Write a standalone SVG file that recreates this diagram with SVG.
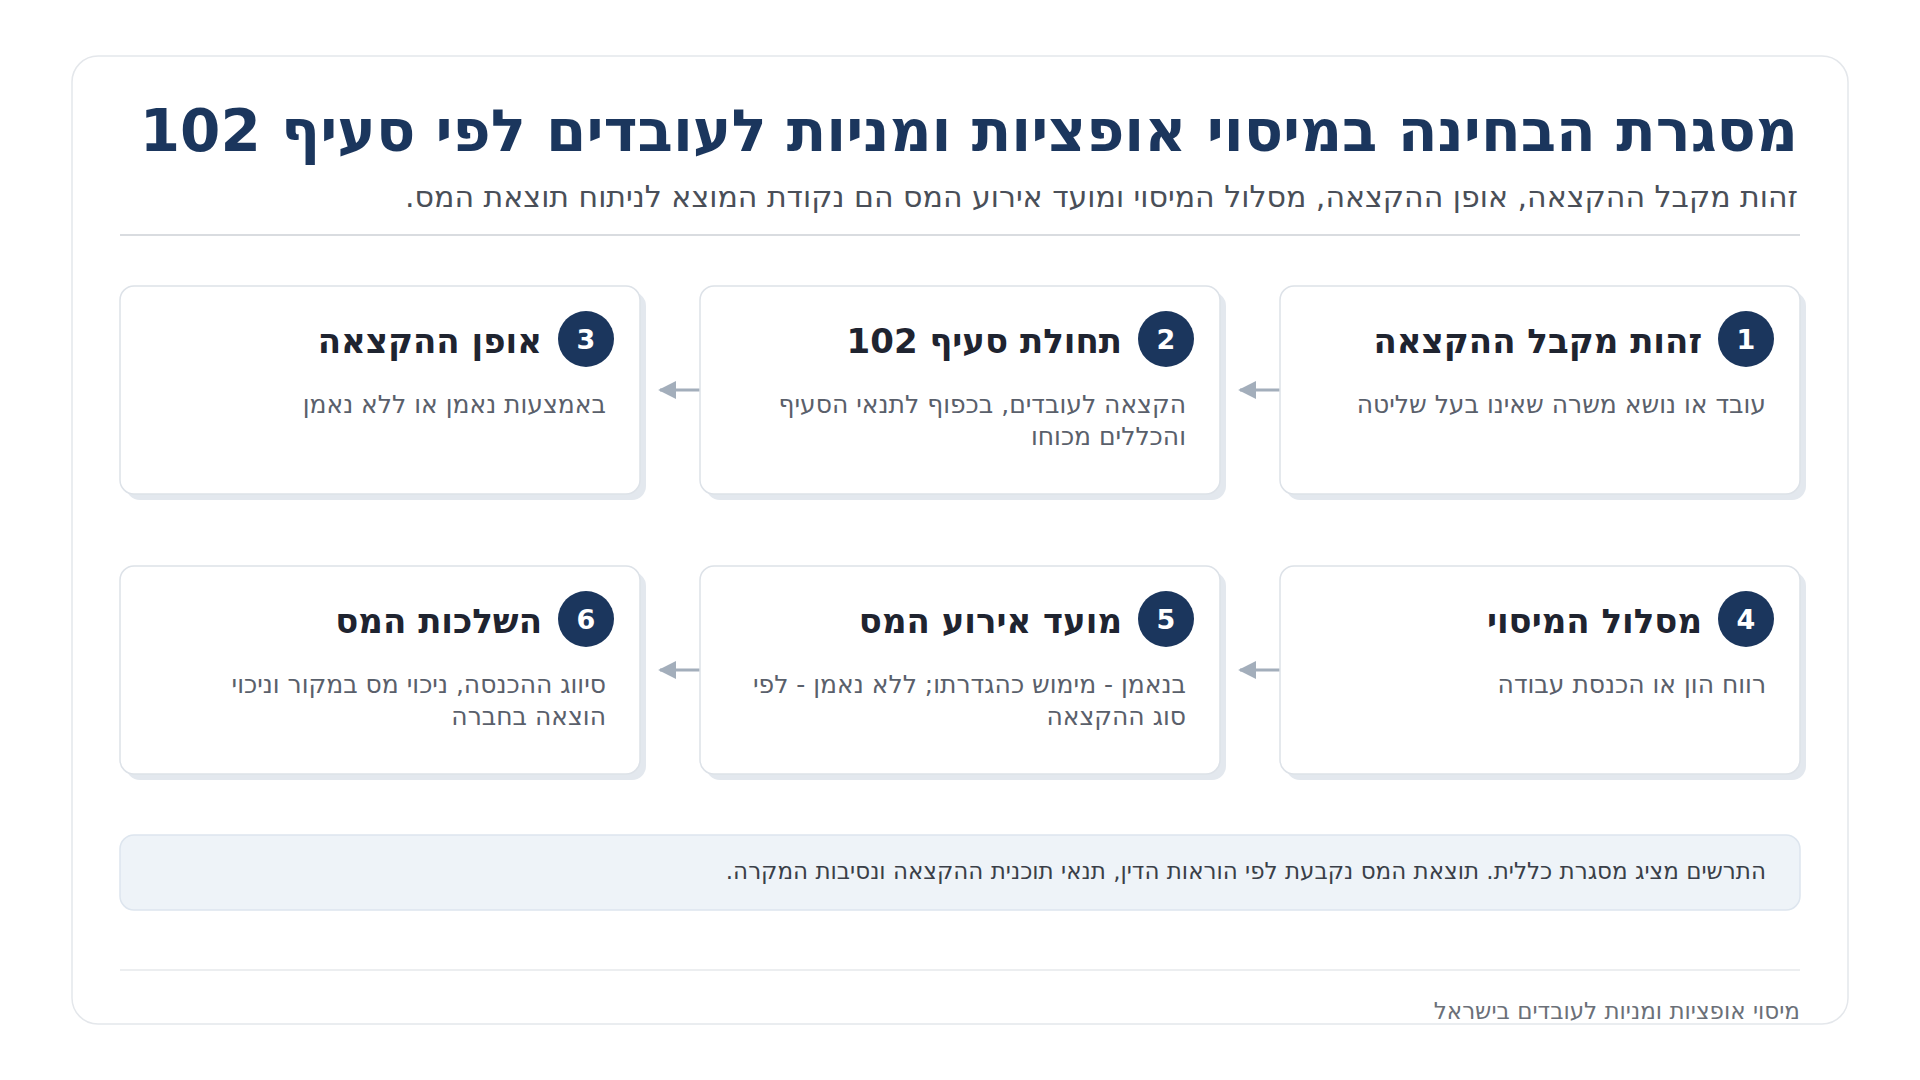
<svg xmlns="http://www.w3.org/2000/svg" width="1920" height="1080" viewBox="0 0 1920 1080">
<defs>
<style>
text{font-family:"DejaVu Sans","Noto Sans",sans-serif;direction:rtl;}
.title{font-size:58px;font-weight:bold;fill:#1b365d;}
.sub{font-size:30px;fill:#4a4f58;}
.ct{font-size:34px;font-weight:bold;fill:#1f2430;}
.cd{font-size:25px;fill:#5a606b;}
.num{font-size:27px;font-weight:bold;fill:#ffffff;direction:ltr;}
.note{font-size:23px;fill:#3a3f48;}
.foot{font-size:23px;fill:#6b7078;}
.card{fill:#ffffff;stroke:#dde2e8;stroke-width:1.5;}
.shadow{fill:#e3e8ee;}
.badge{fill:#1b365d;}
.conn{stroke:#a3aebb;stroke-width:3;fill:none;}
</style>
<marker id="ah" viewBox="0 0 10 10" refX="9" refY="5" markerWidth="6" markerHeight="6" markerUnits="strokeWidth" orient="auto">
<path d="M0,0 L10,5 L0,10 z" fill="#a3aebb"/>
</marker>
</defs>
<rect width="1920" height="1080" fill="#ffffff"/>
<rect x="72" y="56" width="1776" height="968" rx="26" fill="#ffffff" stroke="#e4e7eb" stroke-width="1.5"/>
<g id="header">
<text class="title" x="1798" y="151" text-anchor="start">מסגרת הבחינה במיסוי אופציות ומניות לעובדים לפי סעיף 102</text>
<text class="sub" x="1798" y="207" text-anchor="start">זהות מקבל ההקצאה, אופן ההקצאה, מסלול המיסוי ומועד אירוע המס הם נקודת המוצא לניתוח תוצאת המס.</text>
<line x1="120" y1="235" x2="1800" y2="235" stroke="#d9dce0" stroke-width="2"/>
</g>
<g id="connectors">
<line class="conn" x1="1280" y1="390" x2="1240" y2="390" marker-end="url(#ah)"/>
<line class="conn" x1="700" y1="390" x2="660" y2="390" marker-end="url(#ah)"/>
<line class="conn" x1="1280" y1="670" x2="1240" y2="670" marker-end="url(#ah)"/>
<line class="conn" x1="700" y1="670" x2="660" y2="670" marker-end="url(#ah)"/>
</g>
<g id="node1">
<rect class="shadow" x="1286" y="292" width="520" height="208" rx="14"/>
<rect class="card" x="1280" y="286" width="520" height="208" rx="14"/>
<circle class="badge" cx="1746" cy="339" r="28"/>
<text class="num" x="1746" y="349" text-anchor="middle">1</text>
<text class="ct" x="1702" y="353" text-anchor="start">זהות מקבל ההקצאה</text>
<text class="cd" x="1766" y="413" text-anchor="start">עובד או נושא משרה שאינו בעל שליטה</text>
</g>
<g id="node2">
<rect class="shadow" x="706" y="292" width="520" height="208" rx="14"/>
<rect class="card" x="700" y="286" width="520" height="208" rx="14"/>
<circle class="badge" cx="1166" cy="339" r="28"/>
<text class="num" x="1166" y="349" text-anchor="middle">2</text>
<text class="ct" x="1122" y="353" text-anchor="start">תחולת סעיף 102</text>
<text class="cd" x="1186" y="413" text-anchor="start">הקצאה לעובדים, בכפוף לתנאי הסעיף</text>
<text class="cd" x="1186" y="445" text-anchor="start">והכללים מכוחו</text>
</g>
<g id="node3">
<rect class="shadow" x="126" y="292" width="520" height="208" rx="14"/>
<rect class="card" x="120" y="286" width="520" height="208" rx="14"/>
<circle class="badge" cx="586" cy="339" r="28"/>
<text class="num" x="586" y="349" text-anchor="middle">3</text>
<text class="ct" x="542" y="353" text-anchor="start">אופן ההקצאה</text>
<text class="cd" x="606" y="413" text-anchor="start">באמצעות נאמן או ללא נאמן</text>
</g>
<g id="node4">
<rect class="shadow" x="1286" y="572" width="520" height="208" rx="14"/>
<rect class="card" x="1280" y="566" width="520" height="208" rx="14"/>
<circle class="badge" cx="1746" cy="619" r="28"/>
<text class="num" x="1746" y="629" text-anchor="middle">4</text>
<text class="ct" x="1702" y="633" text-anchor="start">מסלול המיסוי</text>
<text class="cd" x="1766" y="693" text-anchor="start">רווח הון או הכנסת עבודה</text>
</g>
<g id="node5">
<rect class="shadow" x="706" y="572" width="520" height="208" rx="14"/>
<rect class="card" x="700" y="566" width="520" height="208" rx="14"/>
<circle class="badge" cx="1166" cy="619" r="28"/>
<text class="num" x="1166" y="629" text-anchor="middle">5</text>
<text class="ct" x="1122" y="633" text-anchor="start">מועד אירוע המס</text>
<text class="cd" x="1186" y="693" text-anchor="start">בנאמן - מימוש כהגדרתו; ללא נאמן - לפי</text>
<text class="cd" x="1186" y="725" text-anchor="start">סוג ההקצאה</text>
</g>
<g id="node6">
<rect class="shadow" x="126" y="572" width="520" height="208" rx="14"/>
<rect class="card" x="120" y="566" width="520" height="208" rx="14"/>
<circle class="badge" cx="586" cy="619" r="28"/>
<text class="num" x="586" y="629" text-anchor="middle">6</text>
<text class="ct" x="542" y="633" text-anchor="start">השלכות המס</text>
<text class="cd" x="606" y="693" text-anchor="start">סיווג ההכנסה, ניכוי מס במקור וניכוי</text>
<text class="cd" x="606" y="725" text-anchor="start">הוצאה בחברה</text>
</g>
<g id="note">
<rect x="120" y="835" width="1680" height="75" rx="14" fill="#eef3f8" stroke="#dde5ee" stroke-width="1.5"/>
<text class="note" x="1766" y="879" text-anchor="start">התרשים מציג מסגרת כללית. תוצאת המס נקבעת לפי הוראות הדין, תנאי תוכנית ההקצאה ונסיבות המקרה.</text>
</g>
<g id="footer">
<line x1="120" y1="970" x2="1800" y2="970" stroke="#e6e8eb" stroke-width="1.5"/>
<text class="foot" x="1800" y="1019" text-anchor="start">מיסוי אופציות ומניות לעובדים בישראל</text>
</g>
</svg>
